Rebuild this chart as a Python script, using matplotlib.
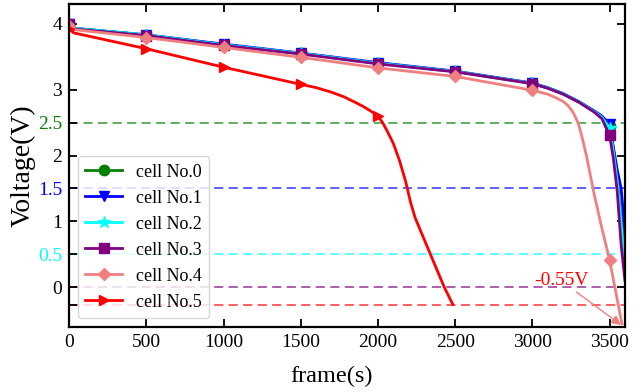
import matplotlib
matplotlib.use("Agg")
import matplotlib.pyplot as plt
from matplotlib.ticker import FixedLocator, FixedFormatter

plt.rcParams['font.family'] = ['Liberation Serif', 'DejaVu Serif']

# ---- data ----
frames_a = [0, 30, 500, 1000, 1500, 2000, 2500, 3000, 3100, 3200, 3300, 3400, 3450,
            3500, 3525, 3550, 3575, 3600]
marks_a = [0, 2, 3, 4, 5, 6, 7, 13]
cell0 = [4.00, 3.93, 3.83, 3.68, 3.55, 3.40, 3.275, 3.095, 3.025, 2.935, 2.815, 2.67, 2.58,
         2.45, 2.10, 1.65, 1.05, 0.45]
cell1 = [4.00, 3.93, 3.83, 3.69, 3.555, 3.41, 3.28, 3.10, 3.03, 2.94, 2.82, 2.68, 2.60,
         2.48, 2.12, 1.78, 1.50, 0.85]
cell2 = [4.00, 3.93, 3.83, 3.68, 3.55, 3.40, 3.275, 3.095, 3.025, 2.935, 2.815, 2.67, 2.58,
         2.42, 2.05, 1.60, 0.95, 0.35]
cell3 = [3.99, 3.92, 3.82, 3.67, 3.54, 3.39, 3.27, 3.09, 3.02, 2.93, 2.81, 2.66, 2.56,
         2.31, 1.95, 1.45, 0.65, 0.10]

frames_4 = [0, 30, 500, 1000, 1500, 2000, 2500, 3000, 3100, 3150, 3200, 3230, 3260, 3280,
            3300, 3325, 3350, 3400, 3450, 3500, 3580]
marks_4 = [0, 2, 3, 4, 5, 6, 7, 19]
cell4 = [3.97, 3.91, 3.79, 3.64, 3.49, 3.33, 3.20, 2.99, 2.93, 2.88, 2.82, 2.76, 2.67, 2.58,
         2.47, 2.25, 2.00, 1.42, 0.90, 0.42, -0.55]

frames_5 = [0, 30, 500, 1000, 1500, 1600, 1700, 1780, 1850, 1900, 1950, 2000, 2030, 2060,
            2100, 2140, 2180, 2210, 2240, 2290, 2340, 2430, 2485]
marks_5 = [0, 2, 3, 4, 11]
cell5 = [3.92, 3.86, 3.62, 3.34, 3.08, 3.03, 2.96, 2.89, 2.81, 2.75, 2.68, 2.60, 2.50, 2.37,
         2.18, 1.92, 1.60, 1.30, 1.06, 0.78, 0.50, 0.0, -0.26]

# threshold lines (last one sits at -0.26 in the picture, labelled -0.45)
thresh_vals = [2.5, 1.5, 0.5, 0.0, -0.26]
thresh_labels = ['2.5', '1.5', '0.5', '', '-0.45']
thresh_colors = ['green', 'blue', 'cyan', 'purple', 'red']

fig = plt.figure(figsize=(6.41, 3.92), dpi=100)
ax = fig.add_axes([0.108, 0.166, 0.867, 0.824])

series = [
    (frames_a, cell0, marks_a, 'green', 'o', 7.5, 'cell No.0'),
    (frames_a, cell1, marks_a, 'blue', 'v', 7.5, 'cell No.1'),
    (frames_a, cell2, marks_a, 'cyan', '*', 9, 'cell No.2'),
    (frames_a, cell3, marks_a, 'purple', 's', 7, 'cell No.3'),
    (frames_4, cell4, marks_4, 'lightcoral', 'D', 6.5, 'cell No.4'),
    (frames_5, cell5, marks_5, 'red', '>', 7.5, 'cell No.5'),
]
for fr, v, mk, c, m, ms, lab in series:
    ax.plot(fr, v, color=c, marker=m, markersize=ms, markevery=mk, lw=2, label=lab)

for val, c in zip(thresh_vals, thresh_colors):
    ax.axhline(val, color=c, lw=1.1, alpha=0.8, dashes=(6, 3.5), zorder=1)

ax.annotate('-0.55V', xy=(3575, -0.57), xytext=(3010, 0.10), color='red', fontsize=14,
            ha='left', va='center',
            arrowprops=dict(arrowstyle='-|>', color='lightcoral', lw=1,
                            shrinkA=0, shrinkB=0))

ax.set_xlim(0, 3600)
ax.set_ylim(-0.6, 4.3)
ax.set_xticks(range(0, 3501, 500))
ax.set_yticks([0, 1, 2, 3, 4])
ax.yaxis.set_minor_locator(FixedLocator(thresh_vals))
ax.yaxis.set_minor_formatter(FixedFormatter(thresh_labels))

ax.tick_params(which='both', direction='in', top=True, right=True, length=6, width=1.3,
               labelsize=14, pad=5)
ax.tick_params(axis='y', which='minor', right=False)
for t, c in zip(ax.yaxis.get_minor_ticks(), thresh_colors):
    t.tick1line.set_color(c)
    t.label1.set_color(c)

for s in ax.spines.values():
    s.set_linewidth(1.6)

ax.set_xlabel('frame(s)', fontsize=17.5, labelpad=2)
ax.xaxis.set_label_coords(0.472, -0.12)
ax.set_ylabel('Voltage(V)', fontsize=20, labelpad=2)

ax.legend(loc='lower left', fontsize=13)

fig.savefig('out.png', dpi=100)
